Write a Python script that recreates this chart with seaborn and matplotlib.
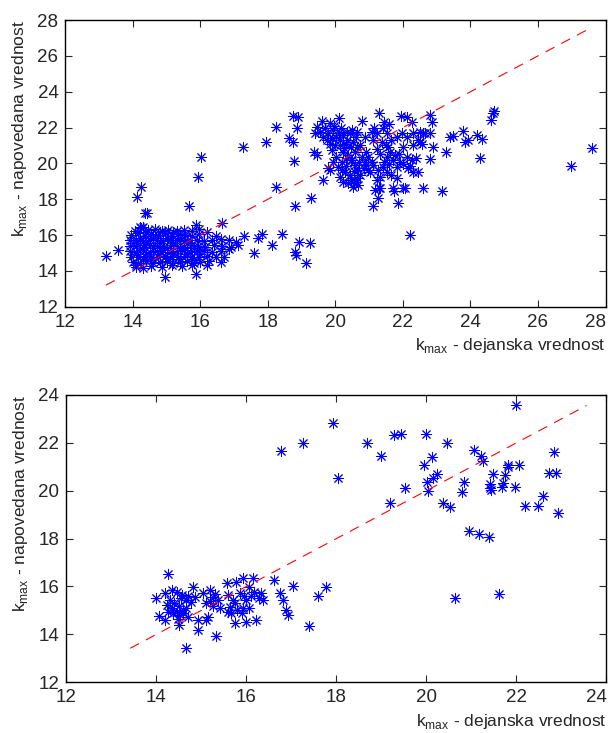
import matplotlib
matplotlib.use("Agg")
import matplotlib.pyplot as plt
import seaborn as sns

# top panel: (actual k_max, predicted k_max)
top_outliers = [(13.2, 14.83), (13.56, 15.15), (14.13, 18.1), (14.25, 18.66), (14.36, 17.21),
                (14.42, 17.25), (15.66, 17.63), (15.94, 19.22), (16.03, 20.33), (16.63, 16.65),
                (15.86, 13.82), (14.95, 13.64), (15.86, 16.56), (14.21, 16.47)]

top_blob = [
    (14.05, 16.25), (14.25, 16.4), (14.45, 16.3), (14.65, 16.35), (14.85, 16.2), (15.05, 16.3),
    (15.3, 16.25), (15.5, 16.3), (15.75, 16.2), (15.95, 16.35),
    (13.95, 16.0), (14.15, 16.1), (14.35, 15.95), (14.55, 16.05), (14.75, 16.0), (14.95, 16.1),
    (15.15, 15.95), (15.35, 16.05), (15.55, 16.0), (15.75, 15.95), (15.95, 16.05), (16.2, 16.15),
    (16.45, 15.95),
    (13.9, 15.7), (14.1, 15.75), (14.3, 15.65), (14.5, 15.75), (14.7, 15.7), (14.9, 15.65),
    (15.1, 15.75), (15.3, 15.7), (15.5, 15.65), (15.7, 15.75), (15.9, 15.7), (16.1, 15.65),
    (16.35, 15.75), (16.6, 15.8), (16.85, 15.7), (17.05, 15.6),
    (13.92, 15.4), (14.12, 15.45), (14.32, 15.35), (14.52, 15.45), (14.72, 15.4), (14.92, 15.35),
    (15.12, 15.45), (15.32, 15.4), (15.52, 15.35), (15.72, 15.45), (15.92, 15.4), (16.15, 15.35),
    (16.4, 15.45), (16.65, 15.4), (16.9, 15.35), (17.1, 15.45),
    (13.9, 15.1), (14.1, 15.05), (14.3, 15.15), (14.5, 15.05), (14.7, 15.1), (14.9, 15.15),
    (15.1, 15.05), (15.3, 15.1), (15.5, 15.15), (15.7, 15.05), (15.9, 15.1), (16.1, 15.15),
    (16.35, 15.05), (16.6, 15.1), (16.85, 15.2),
    (13.95, 14.8), (14.15, 14.75), (14.35, 14.85), (14.55, 14.75), (14.75, 14.8), (14.95, 14.85),
    (15.15, 14.75), (15.35, 14.8), (15.55, 14.85), (15.75, 14.75), (15.95, 14.8), (16.2, 14.85),
    (16.45, 14.75), (16.7, 14.8),
    (14.0, 14.5), (14.2, 14.45), (14.4, 14.55), (14.6, 14.45), (14.8, 14.5), (15.0, 14.55),
    (15.2, 14.45), (15.4, 14.5), (15.6, 14.55), (15.8, 14.45), (16.0, 14.5), (16.25, 14.55),
    (16.6, 14.5),
    (14.1, 14.2), (14.3, 14.15), (14.55, 14.25), (14.85, 14.2), (15.15, 14.3), (15.45, 14.25),
    (15.75, 14.3), (16.2, 14.3),
    (14.0, 15.55), (14.2, 15.25), (14.4, 14.95), (14.6, 14.65), (14.2, 15.85), (14.4, 15.55),
    (14.6, 15.25), (14.8, 14.95), (14.4, 16.15), (14.6, 15.85), (14.8, 15.55), (15.0, 15.25),
    (15.2, 14.95), (15.0, 14.65), (14.8, 16.15), (15.0, 15.85), (15.2, 15.55), (15.4, 15.25),
    (15.6, 14.95), (15.4, 14.65), (15.2, 16.15), (15.4, 15.85), (15.6, 15.55), (15.8, 15.25),
    (16.0, 14.95), (15.8, 14.65), (14.1, 14.35), (14.3, 14.65), (14.1, 14.95), (14.3, 16.45),
]

top_middle = [(17.3, 15.93), (17.59, 14.98), (17.71, 15.81), (17.81, 16.06), (18.11, 15.44),
              (18.43, 16.06), (18.93, 15.63), (19.26, 15.54), (18.8, 15.07), (18.83, 14.88),
              (19.13, 14.42), (22.22, 15.98)]

top_right = [
    (17.25, 20.89), (17.94, 21.21), (18.24, 22.01), (18.63, 21.39), (18.75, 21.17), (18.75, 22.64),
    (18.9, 22.6), (18.87, 21.95), (18.78, 20.15), (18.24, 18.7), (18.8, 17.62), (19.27, 18.05),
    (19.39, 21.67), (19.36, 20.65), (19.46, 20.46), (19.59, 22.38), (19.84, 22.23), (20.11, 22.51),
    (19.64, 19.07), (19.69, 21.95), (19.79, 21.67), (19.94, 21.86), (20.03, 21.49), (20.13, 21.3),
    (20.23, 21.58), (20.33, 21.76), (20.43, 21.67), (20.53, 21.21), (20.63, 20.93), (20.13, 21.02),
    (19.98, 21.02), (19.74, 21.3), (19.89, 20.74), (20.03, 20.37), (20.23, 20.65), (20.38, 20.46),
    (20.48, 20.18), (20.58, 19.9), (20.68, 19.63), (20.08, 19.81), (20.28, 19.53), (20.43, 19.35),
    (20.63, 19.16), (20.68, 18.79), (20.38, 18.88), (20.13, 19.25), (19.84, 19.63), (19.79, 19.72),
    (19.54, 21.76), (19.64, 21.49), (19.84, 21.11), (20.33, 21.3), (20.73, 21.02), (20.58, 20.65),
    (20.78, 20.37), (20.87, 20.09), (20.97, 19.63), (20.73, 19.35), (20.58, 19.07), (20.18, 20.09),
    (19.94, 20.09), (20.23, 18.97), (20.53, 18.7), (20.79, 22.38), (21.07, 21.76), (21.12, 21.3),
    (21.22, 20.83), (21.32, 20.55), (21.52, 20.37), (21.61, 20.65), (21.71, 20.18), (21.81, 19.81),
    (21.52, 19.53), (21.32, 19.25), (21.22, 19.07), (21.02, 19.53), (20.92, 19.9), (20.97, 20.37),
    (21.07, 20.09), (21.17, 18.51), (21.3, 18.6), (21.71, 18.6), (21.99, 18.6), (22.58, 18.6),
    (21.3, 22.82), (21.44, 22.32), (21.42, 21.95), (21.52, 21.67), (21.93, 22.64), (22.11, 22.6),
    (22.26, 22.32), (22.8, 22.7), (22.85, 22.32), (21.96, 21.67), (22.11, 21.49), (22.31, 21.67),
    (22.5, 21.76), (22.65, 21.67), (22.8, 21.71), (22.55, 21.11), (22.45, 21.3), (22.31, 21.02),
    (22.01, 20.93), (21.89, 20.55), (22.11, 20.37), (22.26, 20.18), (22.4, 20.28), (22.8, 20.22),
    (22.88, 20.89), (22.16, 19.72), (22.31, 19.53), (22.45, 19.53), (21.56, 20.93), (21.66, 21.3),
    (21.81, 21.49), (21.42, 19.81), (21.66, 19.35), (21.81, 19.16), (21.37, 21.21), (21.22, 21.67),
    (20.87, 21.49), (20.48, 21.86), (19.44, 22.04), (22.6, 21.67), (22.5, 21.2),
    (21.1, 17.64), (21.27, 18.05), (21.85, 17.8), (21.73, 18.47), (22.05, 18.6), (21.33, 18.6),
    (23.17, 18.47), (23.27, 20.65), (23.39, 21.49), (23.47, 21.54), (23.78, 21.82), (23.83, 21.2),
    (23.93, 21.3), (24.18, 21.58), (24.33, 21.34), (24.28, 20.28), (24.62, 22.42), (24.67, 22.79),
    (24.7, 22.94), (26.97, 19.87), (27.6, 20.84),
    (19.9, 21.4), (20.1, 21.7), (20.3, 21.1), (20.45, 20.9), (20.6, 21.45), (20.25, 20.85),
    (20.45, 20.2), (20.3, 19.85), (20.55, 19.55), (20.2, 19.65), (20.45, 19.05), (20.6, 18.95),
    (20.35, 20.3), (20.7, 20.1), (20.85, 19.75), (20.9, 20.65), (21.1, 19.9), (21.25, 19.65),
    (21.45, 20.05), (21.6, 19.95), (21.75, 20.45), (21.9, 20.1), (21.5, 21.05), (20.15, 22.0),
    (19.95, 22.1), (20.65, 21.75), (22.0, 19.95), (22.2, 19.85), (21.15, 21.95), (21.6, 22.2),
]

# bottom panel: (actual k_max, predicted k_max)
bottom_left = [
    (14.26, 16.52), (14.0, 15.51), (14.06, 14.77), (14.19, 14.6), (14.19, 15.72), (14.34, 15.86),
    (14.45, 15.79), (14.56, 15.65), (14.67, 15.44), (14.23, 15.23), (14.34, 15.09), (14.45, 14.95),
    (14.52, 14.81), (14.59, 15.02), (14.71, 14.74), (14.82, 15.99), (14.85, 15.58), (14.78, 15.37),
    (14.93, 14.6), (14.93, 14.18), (15.11, 14.6), (15.15, 14.74), (15.04, 15.72), (15.19, 15.86),
    (15.26, 15.58), (15.37, 15.44), (15.33, 13.93), (15.56, 16.13), (15.59, 15.65), (15.63, 15.16),
    (15.67, 14.88), (15.74, 14.46), (15.78, 16.2), (15.92, 16.34), (15.85, 15.72), (16.0, 15.44),
    (15.92, 15.1), (16.0, 14.53), (16.15, 16.34), (16.18, 15.79), (16.22, 14.6), (16.33, 15.72),
    (16.37, 15.44), (16.29, 15.51), (16.07, 15.99), (15.74, 15.3), (15.41, 15.09), (15.11, 15.3),
    (14.65, 13.42), (14.3, 15.45), (14.4, 15.3), (14.5, 15.2), (14.55, 15.5), (14.65, 15.1),
    (14.38, 14.9), (14.48, 14.65), (14.6, 14.9), (14.7, 15.6), (14.25, 14.95), (15.2, 15.4),
    (15.3, 15.7), (15.25, 15.2), (15.7, 15.45), (15.8, 15.0), (15.6, 14.95), (15.9, 14.9),
    (16.05, 15.1), (16.1, 15.6), (15.95, 15.6), (14.5, 14.4),
]

bottom_right = [
    (16.61, 16.27), (16.74, 15.72), (16.81, 15.44), (16.88, 15.02), (16.92, 14.81), (17.03, 16.0),
    (17.4, 14.35), (17.6, 15.6), (17.77, 15.97), (16.76, 21.67), (17.25, 22.01), (17.92, 22.82),
    (18.03, 20.52), (18.68, 21.98), (18.99, 21.45), (19.27, 22.33), (19.44, 22.36), (19.19, 19.5),
    (19.53, 20.1), (19.99, 22.37), (19.95, 21.06), (20.12, 21.4), (20.01, 20.38), (20.03, 20.0),
    (20.15, 20.52), (20.23, 20.7), (20.45, 22.01), (20.38, 19.5), (20.52, 19.31), (20.64, 15.51),
    (20.8, 19.96), (20.83, 20.38), (20.95, 18.32), (21.06, 21.7), (21.17, 18.2), (21.21, 21.45),
    (21.25, 21.26), (21.4, 18.08), (21.42, 20.27), (21.43, 20.03), (21.42, 20.13), (21.47, 20.69),
    (21.62, 15.69), (21.69, 20.17), (21.71, 20.31), (21.74, 20.66), (21.82, 21.08), (21.82, 20.98),
    (21.96, 20.17), (22.06, 21.08), (22.0, 23.56), (22.19, 19.38), (22.48, 19.36), (22.58, 19.8),
    (22.72, 20.73), (22.89, 20.73), (22.84, 21.61), (22.93, 19.09),
]

top_pts = top_outliers + top_blob + top_middle + top_right
bottom_pts = bottom_left + bottom_right
top_actual, top_pred = map(list, zip(*top_pts))
bottom_actual, bottom_pred = map(list, zip(*bottom_pts))

top_ticks = [12, 14, 16, 18, 20, 22, 24, 26, 28]
bottom_ticks = [12, 14, 16, 18, 20, 22, 24]

xlab = r"k$_\mathrm{max}$ - dejanska vrednost"
ylab = r"k$_\mathrm{max}$ - napovedana vrednost"

sns.set_style("ticks")
plt.rcParams["font.family"] = ["Liberation Sans", "DejaVu Sans"]
plt.rcParams["mathtext.fontset"] = "custom"
plt.rcParams["mathtext.rm"] = "Liberation Sans"
plt.rcParams["xtick.direction"] = "in"
plt.rcParams["ytick.direction"] = "in"

fig = plt.figure(figsize=(6.11, 7.33), dpi=100)
ax1 = fig.add_axes([0.107, 0.5816, 0.884, 0.391])
ax2 = fig.add_axes([0.1085, 0.0692, 0.884, 0.392])

asterisk = (8, 2, 0)

for ax, xs, ys, ticks in [(ax1, top_actual, top_pred, top_ticks),
                          (ax2, bottom_actual, bottom_pred, bottom_ticks)]:
    sns.scatterplot(x=xs, y=ys, ax=ax, marker=asterisk, color="blue",
                    s=55, linewidth=0.7, zorder=2)
    lo = min(min(xs), min(ys))
    hi = max(max(xs), max(ys))
    ax.plot([lo, hi], [lo, hi], color="red", lw=0.8, dashes=(9, 7), zorder=3)
    ax.set_xlim(ticks[0], ticks[-1])
    ax.set_ylim(ticks[0], ticks[-1])
    ax.set_xticks(ticks)
    ax.set_yticks(ticks)
    ax.tick_params(labelsize=13.5, length=5, width=0.8, top=True, right=True, pad=5)
    ax.get_xticklabels()[-1].set_horizontalalignment("right")
    for sp in ax.spines.values():
        sp.set_visible(True)
        sp.set_linewidth(1.0)
        sp.set_color("black")
    ax.set_xlabel(xlab, fontsize=12.5, loc="right", labelpad=4)
    ax.set_ylabel(ylab, fontsize=12.5, loc="top", labelpad=6)

fig.savefig("out.png", dpi=100)
